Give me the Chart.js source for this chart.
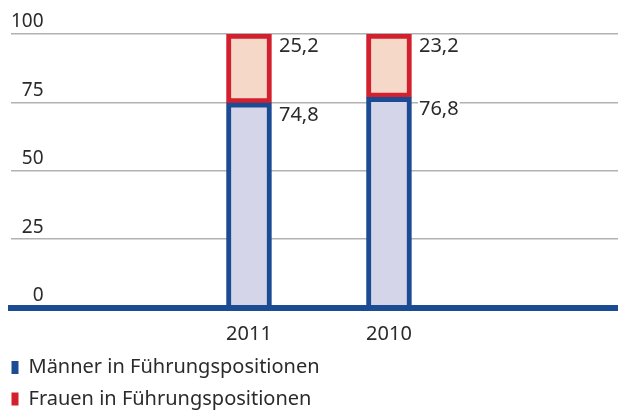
<!DOCTYPE html>
<html lang="de">
<head>
<meta charset="UTF-8">
<title>Führungspositionen</title>
<script src="https://cdn.jsdelivr.net/npm/chart.js"></script>
<style>
  html, body { margin: 0; padding: 0; background: #fff; }
  canvas { display: block; }
</style>
</head>
<body>
<canvas id="myChart" width="618" height="411"></canvas>
<script>
// Jahre von links nach rechts, Anteile in Prozent
var jahre = ['2011', '2010'];
var maenner = [74.8, 76.8];
var frauen = [25.2, 23.2];
var yTicks = [0, 25, 50, 75, 100];

var blau = '#1b4b92';
var rot = '#d2202f';
var textFarbe = '#2b2b2b';

Chart.defaults.font.family = '"Noto Sans", sans-serif';
Chart.defaults.font.size = 20;
Chart.defaults.color = textFarbe;

// Werte rechts neben den Balken, mit weißem Hintergrund (unterbricht die Gitterlinie)
var wertLabels = {
    id: 'wertLabels',
    afterDatasetsDraw: function (chart) {
        var ctx = chart.ctx;
        ctx.save();
        ctx.font = '20px "Noto Sans"';
        ctx.textAlign = 'left';
        ctx.textBaseline = 'alphabetic';
        chart.data.datasets.forEach(function (ds, di) {
            chart.getDatasetMeta(di).data.forEach(function (bar, i) {
                var text = ds.data[i].y.toFixed(1).replace('.', ',');
                var x = bar.x + bar.width / 2 + 7.5;
                var y = bar.y + 18;
                var w = ctx.measureText(text).width;
                ctx.fillStyle = '#fff';
                ctx.fillRect(x - 1, y - 15, w + 2, 17);
                ctx.fillStyle = textFarbe;
                ctx.fillText(text, x, y);
            });
        });
        ctx.restore();
    }
};

var ctx = document.getElementById('myChart').getContext('2d');
var myChart = new Chart(ctx, {
    type: 'bar',
    data: {
        datasets: [{
            label: 'Männer in Führungspositionen',
            data: maenner.map(function (v, i) { return { x: i, y: v }; }),
            backgroundColor: '#d5d5ea',
            borderColor: blau,
            borderWidth: 5,
            borderSkipped: 'start',
            barThickness: 45
        }, {
            label: 'Frauen in Führungspositionen',
            data: frauen.map(function (v, i) { return { x: i, y: v }; }),
            backgroundColor: '#f5d8c8',
            borderColor: rot,
            borderWidth: 5,
            borderSkipped: false,
            barThickness: 45
        }]
    },
    options: {
        responsive: false,
        animation: false,
        layout: { padding: { top: 34, left: 0, right: 0, bottom: -8 } },
        scales: {
            x: {
                type: 'linear',
                stacked: true,
                offset: false,
                min: -1.7,
                max: 2.636,
                afterBuildTicks: function (s) {
                    s.ticks = jahre.map(function (j, i) { return { value: i }; });
                },
                ticks: {
                    autoSkip: false,
                    maxRotation: 0,
                    padding: 0,
                    font: { size: 20 },
                    callback: function (v) { return jahre[v]; }
                },
                grid: {
                    display: true,
                    offset: false,
                    drawOnChartArea: false,
                    drawTicks: true,
                    tickLength: 14.5,
                    tickColor: 'rgba(0,0,0,0)'
                },
                border: { display: true, color: blau, width: 6, z: 1 }
            },
            y: {
                stacked: true,
                min: 0,
                max: 100,
                afterBuildTicks: function (s) {
                    s.ticks = yTicks.map(function (v) { return { value: v }; });
                },
                ticks: {
                    mirror: true,
                    crossAlign: 'far',
                    padding: 0,
                    labelOffset: -12,
                    font: { size: 19 }
                },
                grid: {
                    color: '#b2b2b2',
                    lineWidth: 1.6,
                    drawTicks: true,
                    tickLength: 11,
                    tickColor: 'rgba(0,0,0,0)'
                },
                border: { display: false }
            }
        },
        plugins: {
            tooltip: { enabled: false },
            legend: {
                position: 'bottom',
                align: 'start',
                labels: {
                    boxWidth: 7,
                    boxHeight: 13,
                    padding: 11.5,
                    font: { size: 20 },
                    generateLabels: function (chart) {
                        return Chart.defaults.plugins.legend.labels.generateLabels(chart).map(function (l) {
                            l.fillStyle = l.strokeStyle;
                            l.lineWidth = 0;
                            return l;
                        });
                    }
                }
            }
        }
    },
    plugins: [wertLabels]
});
</script>
</body>
</html>
